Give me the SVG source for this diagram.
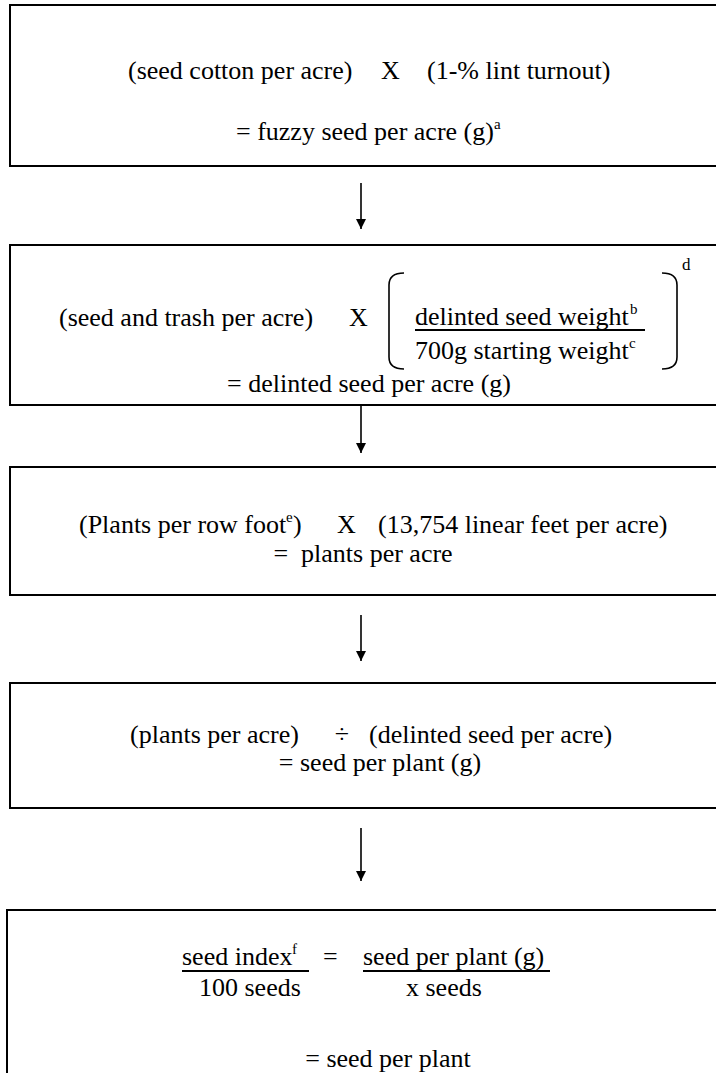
<svg xmlns="http://www.w3.org/2000/svg" width="716" height="1073" viewBox="0 0 716 1073">
<style>
.box{fill:#fff;stroke:#000;stroke-width:2}
.t{font-family:"Liberation Serif","Times New Roman",serif;font-size:26px;fill:#000}
.m{text-anchor:middle}
.sup{font-size:15px}
.ln{stroke:#000;stroke-width:1.6;fill:none}
.ul{stroke:#000;stroke-width:1.8}
</style>
<defs>
<marker id="ah" viewBox="0 0 10 12" refX="10" refY="6" markerWidth="10" markerHeight="12" markerUnits="userSpaceOnUse" orient="auto">
<path d="M0,1 L10,6 L0,11 Z" fill="#000"/>
</marker>
</defs>
<rect width="716" height="1073" fill="#fff"/>
<g id="node1">
<rect class="box" x="10" y="5" width="760" height="161"/>
<text class="t" x="128" y="79">(seed cotton per acre)</text>
<text class="t" x="381" y="79">X</text>
<text class="t" x="427" y="79">(1-% lint turnout)</text>
<text class="t" x="236" y="140">= fuzzy seed per acre (g)</text>
<text class="t sup" x="494" y="129">a</text>
</g>
<g id="node2">
<rect class="box" x="10" y="245" width="760" height="160"/>
<text class="t" x="59" y="326">(seed and trash per acre)</text>
<text class="t" x="349" y="326">X</text>
<path class="ln" d="M404,273 Q389,273 389,285 L389,357 Q389,369 404,369"/>
<path class="ln" d="M662,273 Q677,273 677,285 L677,357 Q677,369 662,369"/>
<text class="t" x="682" y="270" style="font-size:17px">d</text>
<text class="t" x="415" y="325">delinted seed weight</text>
<text class="t sup" x="630" y="314">b</text>
<line class="ul" x1="415" y1="330" x2="645" y2="330"/>
<text class="t" x="415" y="359">700g starting weight</text>
<text class="t sup" x="629" y="348">c</text>
<text class="t m" x="369" y="392">= delinted seed per acre (g)</text>
</g>
<g id="node3">
<rect class="box" x="10" y="467" width="760" height="128"/>
<text class="t" x="79" y="533">(Plants per row foot</text>
<text class="t sup" x="286" y="522">e</text>
<text class="t" x="293" y="533">)</text>
<text class="t" x="337" y="533">X</text>
<text class="t" x="378" y="533">(13,754 linear feet per acre)</text>
<text class="t m" x="363" y="562" xml:space="preserve">=  plants per acre</text>
</g>
<g id="node4">
<rect class="box" x="10" y="683" width="760" height="125"/>
<text class="t" x="130" y="743">(plants per acre)</text>
<text class="t m" x="342" y="743">÷</text>
<text class="t" x="369" y="743">(delinted seed per acre)</text>
<text class="t m" x="380" y="771">= seed per plant (g)</text>
</g>
<g id="node5">
<rect class="box" x="7" y="910" width="763" height="200"/>
<text class="t" x="182" y="965">seed index</text>
<text class="t sup" x="292" y="954">f</text>
<line class="ul" x1="182" y1="971" x2="309" y2="971"/>
<text class="t" x="323" y="965">=</text>
<text class="t" x="363" y="965">seed per plant (g)</text>
<line class="ul" x1="363" y1="971" x2="550" y2="971"/>
<text class="t" x="199" y="996">100 seeds</text>
<text class="t" x="406" y="996">x seeds</text>
<text class="t m" x="388" y="1067">= seed per plant</text>
</g>
<g id="connectors">
<line class="ln" x1="361" y1="183" x2="361" y2="229" marker-end="url(#ah)"/>
<line class="ln" x1="361" y1="405" x2="361" y2="453" marker-end="url(#ah)"/>
<line class="ln" x1="361" y1="615" x2="361" y2="661" marker-end="url(#ah)"/>
<line class="ln" x1="361" y1="828" x2="361" y2="881" marker-end="url(#ah)"/>
</g>
</svg>
